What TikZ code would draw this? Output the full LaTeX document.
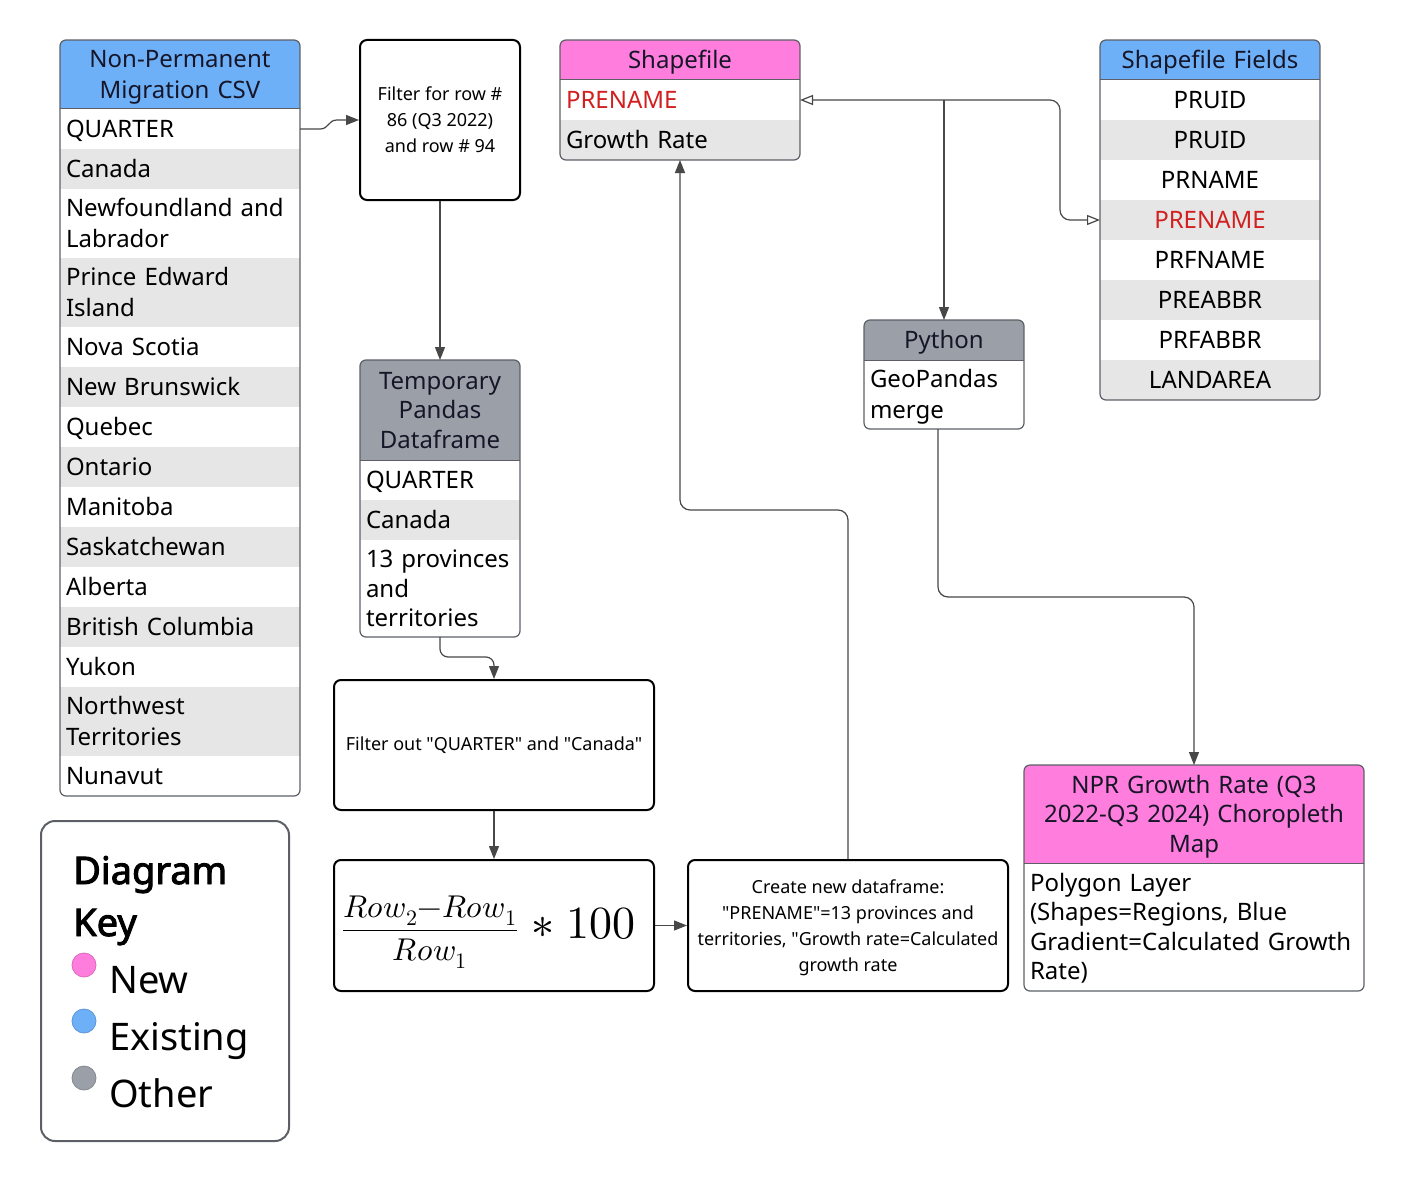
\documentclass[tikz,border=0pt]{standalone}
\usepackage{unicode-math}
\setmainfont{Noto Sans}[Ligatures=TeXOff, AutoFakeBold=2.5]
\setmathfont{Latin Modern Math}
\usetikzlibrary{arrows.meta}

\definecolor{hdrblue}{RGB}{110,176,248}
\definecolor{hdrpink}{RGB}{255,125,221}
\definecolor{hdrgray}{RGB}{155,160,168}
\definecolor{rowgray}{RGB}{230,230,230}
\definecolor{keyred}{RGB}{210,32,32}
\definecolor{framegray}{RGB}{92,96,102}
\definecolor{wire}{RGB}{72,72,72}
\definecolor{hdrtext}{RGB}{22,22,40}

\newcommand{\rowfont}{\fontsize{24}{29.5}\selectfont}
\newcommand{\boxfont}{\fontsize{18}{26}\selectfont}
\newcommand{\keyfont}{\fontsize{38}{52}\selectfont}
% invisible rule that keeps the cap-height middle of a line on the cell centre
\newcommand{\cs}{\rule[-6.4pt]{0pt}{30pt}}

\tikzset{
  cellL/.style={anchor=north west, inner xsep=6pt, inner ysep=0pt, outer sep=0pt,
    minimum height=40pt, font=\rowfont, align=left, text width=#1},
  cellC/.style={cellL=#1, align=center},
  hdr/.style={cellC=#1, text=hdrtext},
  frame/.style={draw=framegray, line width=1.2pt, rounded corners=6pt},
  hdrline/.style={draw=framegray, line width=1pt},
  procbox/.style={draw=black, line width=2pt, rounded corners=7pt, fill=white,
    align=center, font=\boxfont, inner sep=4pt},
  conn/.style={draw=wire, line width=1.2pt, -{Triangle[length=13pt,width=10pt]}},
  openboth/.style={draw=wire, line width=1.2pt,
    {Triangle[open,length=13pt,width=10pt,fill=white]}-{Triangle[open,length=13pt,width=10pt,fill=white]}},
  keytext/.style={inner sep=0pt, anchor=base west, font=\keyfont},
  dot/.style={circle, minimum size=24pt, inner sep=0pt, line width=0.8pt},
}

\begin{document}
\begin{tikzpicture}[x=1pt,y=-1pt]
\useasboundingbox (0,0) rectangle (1404,1180);
\fill[white] (0,0) rectangle (1404,1180);

% ---------- source CSV table ----------
\begin{scope}
\clip[rounded corners=6pt] (60,40) rectangle (300,796);
\node[hdr=228pt, fill=hdrblue, minimum height=69pt] (csvh) at (60,40) {\cs Non-Permanent\\Migration CSV\cs};
\node[cellL=228pt, fill=white] (csv1) at (csvh.south west) {\cs QUARTER};
\node[cellL=228pt, fill=rowgray] (csv2) at (csv1.south west) {\cs Canada};
\node[cellL=228pt, fill=white, minimum height=69pt] (csv3) at (csv2.south west) {\cs Newfoundland and\\Labrador\cs};
\node[cellL=228pt, fill=rowgray, minimum height=69pt] (csv4) at (csv3.south west) {\cs Prince Edward\\Island\cs};
\node[cellL=228pt, fill=white] (csv5) at (csv4.south west) {\cs Nova Scotia};
\node[cellL=228pt, fill=rowgray] (csv6) at (csv5.south west) {\cs New Brunswick};
\node[cellL=228pt, fill=white] (csv7) at (csv6.south west) {\cs Quebec};
\node[cellL=228pt, fill=rowgray] (csv8) at (csv7.south west) {\cs Ontario};
\node[cellL=228pt, fill=white] (csv9) at (csv8.south west) {\cs Manitoba};
\node[cellL=228pt, fill=rowgray] (csv10) at (csv9.south west) {\cs Saskatchewan};
\node[cellL=228pt, fill=white] (csv11) at (csv10.south west) {\cs Alberta};
\node[cellL=228pt, fill=rowgray] (csv12) at (csv11.south west) {\cs British Columbia};
\node[cellL=228pt, fill=white] (csv13) at (csv12.south west) {\cs Yukon};
\node[cellL=228pt, fill=rowgray, minimum height=69pt] (csv14) at (csv13.south west) {\cs Northwest\\Territories\cs};
\node[cellL=228pt, fill=white] (csv15) at (csv14.south west) {\cs Nunavut};
\end{scope}
\draw[hdrline] (csvh.south west) -- (csvh.south east);
\draw[frame] (csvh.north west) rectangle (csv15.south east);

% ---------- temporary dataframe table ----------
\begin{scope}
\clip[rounded corners=6pt] (360,360) rectangle (520,637);
\node[hdr=148pt, fill=hdrgray, minimum height=100pt] (tmph) at (360,360) {\cs Temporary\\Pandas\\Dataframe\cs};
\node[cellL=148pt, fill=white] (tmp1) at (tmph.south west) {\cs QUARTER};
\node[cellL=148pt, fill=rowgray] (tmp2) at (tmp1.south west) {\cs Canada};
\node[cellL=148pt, fill=white, minimum height=97pt] (tmp3) at (tmp2.south west) {\cs 13 provinces\\and\\territories\cs};
\end{scope}
\draw[hdrline] (tmph.south west) -- (tmph.south east);
\draw[frame] (tmph.north west) rectangle (tmp3.south east);

% ---------- shapefile table ----------
\begin{scope}
\clip[rounded corners=6pt] (560,40) rectangle (800,160);
\node[hdr=228pt, fill=hdrpink] (shph) at (560,40) {\cs Shapefile};
\node[cellL=228pt, fill=white, text=keyred] (shp1) at (shph.south west) {\cs PRENAME};
\node[cellL=228pt, fill=rowgray] (shp2) at (shp1.south west) {\cs Growth Rate};
\end{scope}
\draw[hdrline] (shph.south west) -- (shph.south east);
\draw[frame] (shph.north west) rectangle (shp2.south east);

% ---------- shapefile fields table ----------
\begin{scope}
\clip[rounded corners=6pt] (1100,40) rectangle (1320,400);
\node[hdr=208pt, fill=hdrblue] (fldh) at (1100,40) {\cs Shapefile Fields};
\node[cellC=208pt, fill=white] (fld1) at (fldh.south west) {\cs PRUID};
\node[cellC=208pt, fill=rowgray] (fld2) at (fld1.south west) {\cs PRUID};
\node[cellC=208pt, fill=white] (fld3) at (fld2.south west) {\cs PRNAME};
\node[cellC=208pt, fill=rowgray, text=keyred] (fld4) at (fld3.south west) {\cs PRENAME};
\node[cellC=208pt, fill=white] (fld5) at (fld4.south west) {\cs PRFNAME};
\node[cellC=208pt, fill=rowgray] (fld6) at (fld5.south west) {\cs PREABBR};
\node[cellC=208pt, fill=white] (fld7) at (fld6.south west) {\cs PRFABBR};
\node[cellC=208pt, fill=rowgray] (fld8) at (fld7.south west) {\cs LANDAREA};
\end{scope}
\draw[hdrline] (fldh.south west) -- (fldh.south east);
\draw[frame] (fldh.north west) rectangle (fld8.south east);

% ---------- python table ----------
\begin{scope}
\clip[rounded corners=6pt] (864,320) rectangle (1024,429);
\node[hdr=148pt, fill=hdrgray] (pyh) at (864,320) {\cs Python};
\node[cellL=148pt, fill=white, minimum height=69pt] (pyb) at (pyh.south west) {\cs GeoPandas\\merge\cs};
\end{scope}
\draw[hdrline] (pyh.south west) -- (pyh.south east);
\draw[frame] (pyh.north west) rectangle (pyb.south east);

% ---------- output map table ----------
\begin{scope}
\clip[rounded corners=6pt] (1024,765) rectangle (1364,991);
\node[hdr=328pt, fill=hdrpink, minimum height=98pt] (nprh) at (1024,765) {\cs NPR Growth Rate (Q3\\2022-Q3 2024) Choropleth\\Map\cs};
\node[cellL=328pt, fill=white, minimum height=128pt] (nprb) at (nprh.south west) {\cs Polygon Layer\\(Shapes=Regions, Blue\\Gradient=Calculated Growth\\Rate)\cs};
\end{scope}
\draw[hdrline] (nprh.south west) -- (nprh.south east);
\draw[frame] (nprh.north west) rectangle (nprb.south east);

% ---------- process boxes ----------
\node[procbox, minimum width=160pt, minimum height=160pt] (filt) at (440,120) {Filter for row \#\\86 (Q3 2022)\\and row \# 94};
\node[procbox, minimum width=320pt, minimum height=130pt] (fout) at (494,745) {Filter out "QUARTER" and "Canada"};
\node[procbox, minimum width=320pt, minimum height=131pt] (calc) at (494,925.5) {};
\node[inner sep=0pt] (calcfx) at (489,932) {\fontsize{31.5}{36}\selectfont$\dfrac{Row_2{-}Row_1}{Row_1}$\hspace{14pt}{\fontsize{46}{50}\selectfont$\ast$\hspace{12pt}$100$}};
\node[procbox, minimum width=320pt, minimum height=131pt] (mk) at (848,925.5) {\strut Create new dataframe:\\"PRENAME"=13 provinces and\\territories, "Growth rate=Calculated\\growth rate};

% ---------- connectors ----------
\coordinate (bendA) at (760,510);
\coordinate (bendB) at (1060,597);
\draw[conn] (csv1.east) -- ++(20,0) .. controls +(9,0) and +(-9,0) .. ([xshift=-22pt]filt.west) -- (filt.west);
\draw[conn] (filt.south) -- (tmph.north);
\draw[conn, rounded corners=8pt] (tmp3.south) -- ++(0,20) -| (fout.north);
\draw[conn] (fout.south) -- (calc.north);
\draw[conn] (calc.east) -- (mk.west);
\draw[conn, rounded corners=10pt] (mk.north) |- (bendA) -| (shp2.south);
\draw[openboth, rounded corners=10pt] (fld4.west) -- ++(-40,0) |- (shp1.east);
\draw[conn] (pyh.north |- shp1.east) -- (pyh.north);
\draw[conn, rounded corners=10pt] ([xshift=-6pt]pyb.south) |- (bendB) -| (nprh.north);

% ---------- key ----------
\node[draw=framegray, line width=2pt, rounded corners=14pt, minimum width=248pt,
  minimum height=320pt, anchor=north west] (key) at (40,820) {};
\node[keytext, font=\keyfont\bfseries] (keyA) at (73,884) {Diagram};
\node[keytext, font=\keyfont\bfseries] (keyB) at (73,936) {Key};
\node[dot, fill=hdrpink, draw=hdrpink!85!black] (dotNew) at (84,965) {};
\node[dot, fill=hdrblue, draw=hdrblue!85!black] (dotOld) at (84,1021) {};
\node[dot, fill=hdrgray, draw=hdrgray!85!black] (dotOther) at (84,1078) {};
\node[keytext] (keyNew) at (109,993) {New};
\node[keytext] (keyOld) at (109,1050) {Existing};
\node[keytext] (keyOther) at (109,1107) {Other};
\end{tikzpicture}
\end{document}
